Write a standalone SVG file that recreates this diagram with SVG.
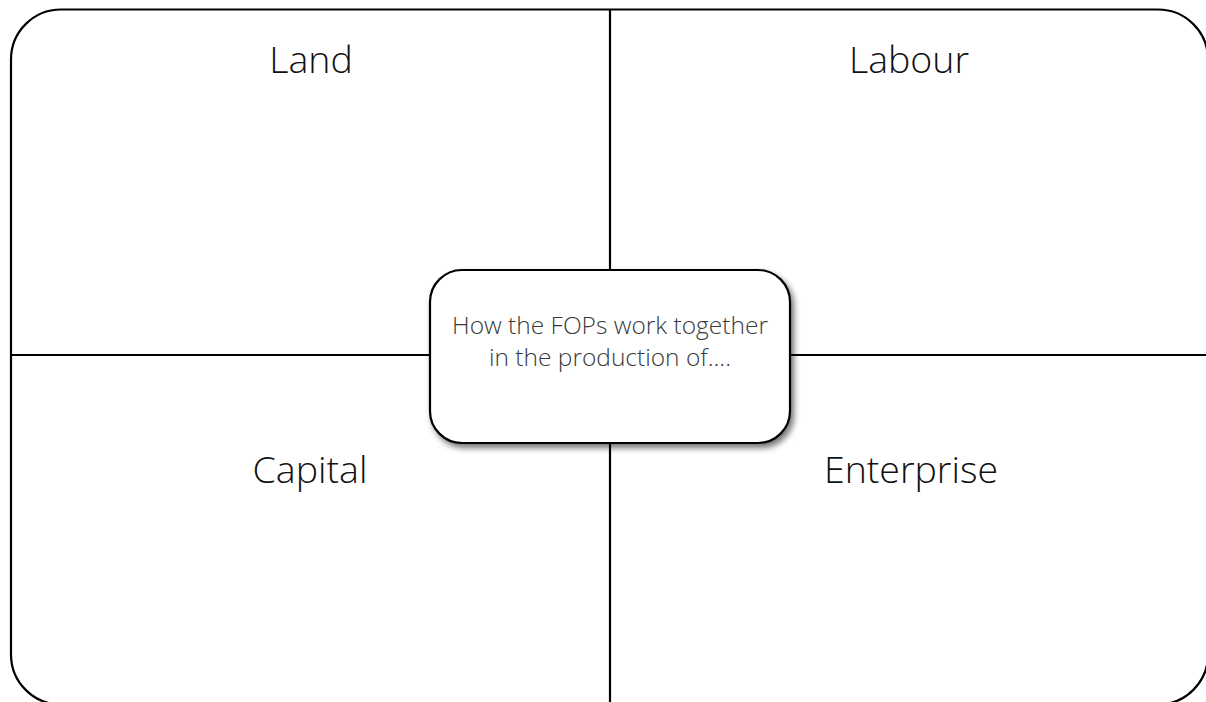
<svg xmlns="http://www.w3.org/2000/svg" width="1206" height="702" viewBox="0 0 1206 702">
  <defs>
    <filter id="shadow" x="-20%" y="-20%" width="150%" height="160%">
      <feGaussianBlur in="SourceAlpha" stdDeviation="3"/>
      <feOffset dx="3" dy="4" result="b"/>
      <feComponentTransfer><feFuncA type="linear" slope="0.55"/></feComponentTransfer>
      <feMerge><feMergeNode/><feMergeNode in="SourceGraphic"/></feMerge>
    </filter>
    <style>
      .frame{fill:#ffffff;stroke:#000000;stroke-width:2.2}
      .line{stroke:#000000;stroke-width:2.2;fill:none}
      .big{font-family:"Open Sans","Liberation Sans",sans-serif;font-weight:300;font-size:37.5px;fill:#111111;text-anchor:middle}
      .small{font-family:"Open Sans","Liberation Sans",sans-serif;font-weight:300;font-size:24.5px;fill:#3a3a3a;text-anchor:middle}
    </style>
  </defs>
  <rect width="1206" height="702" fill="#ffffff"/>
  <g id="frame">
    <rect class="frame" x="11" y="9.5" width="1197" height="695" rx="50" ry="50"/>
  </g>
  <g id="connectors">
    <line class="line" x1="610" y1="9.5" x2="610" y2="702"/>
    <line class="line" x1="11" y1="355" x2="1206" y2="355"/>
  </g>
  <g id="land"><text class="big" x="311" y="73">Land</text></g>
  <g id="labour"><text class="big" x="909" y="73">Labour</text></g>
  <g id="capital"><text class="big" x="310" y="483">Capital</text></g>
  <g id="enterprise"><text class="big" x="911" y="483">Enterprise</text></g>
  <g id="center">
    <rect x="430" y="270" width="360" height="173" rx="32" ry="32" fill="#ffffff" stroke="#000000" stroke-width="2.2" filter="url(#shadow)"/>
    <text class="small" x="610" y="334">How the FOPs work together</text>
    <text class="small" x="610" y="366">in the production of....</text>
  </g>
</svg>
